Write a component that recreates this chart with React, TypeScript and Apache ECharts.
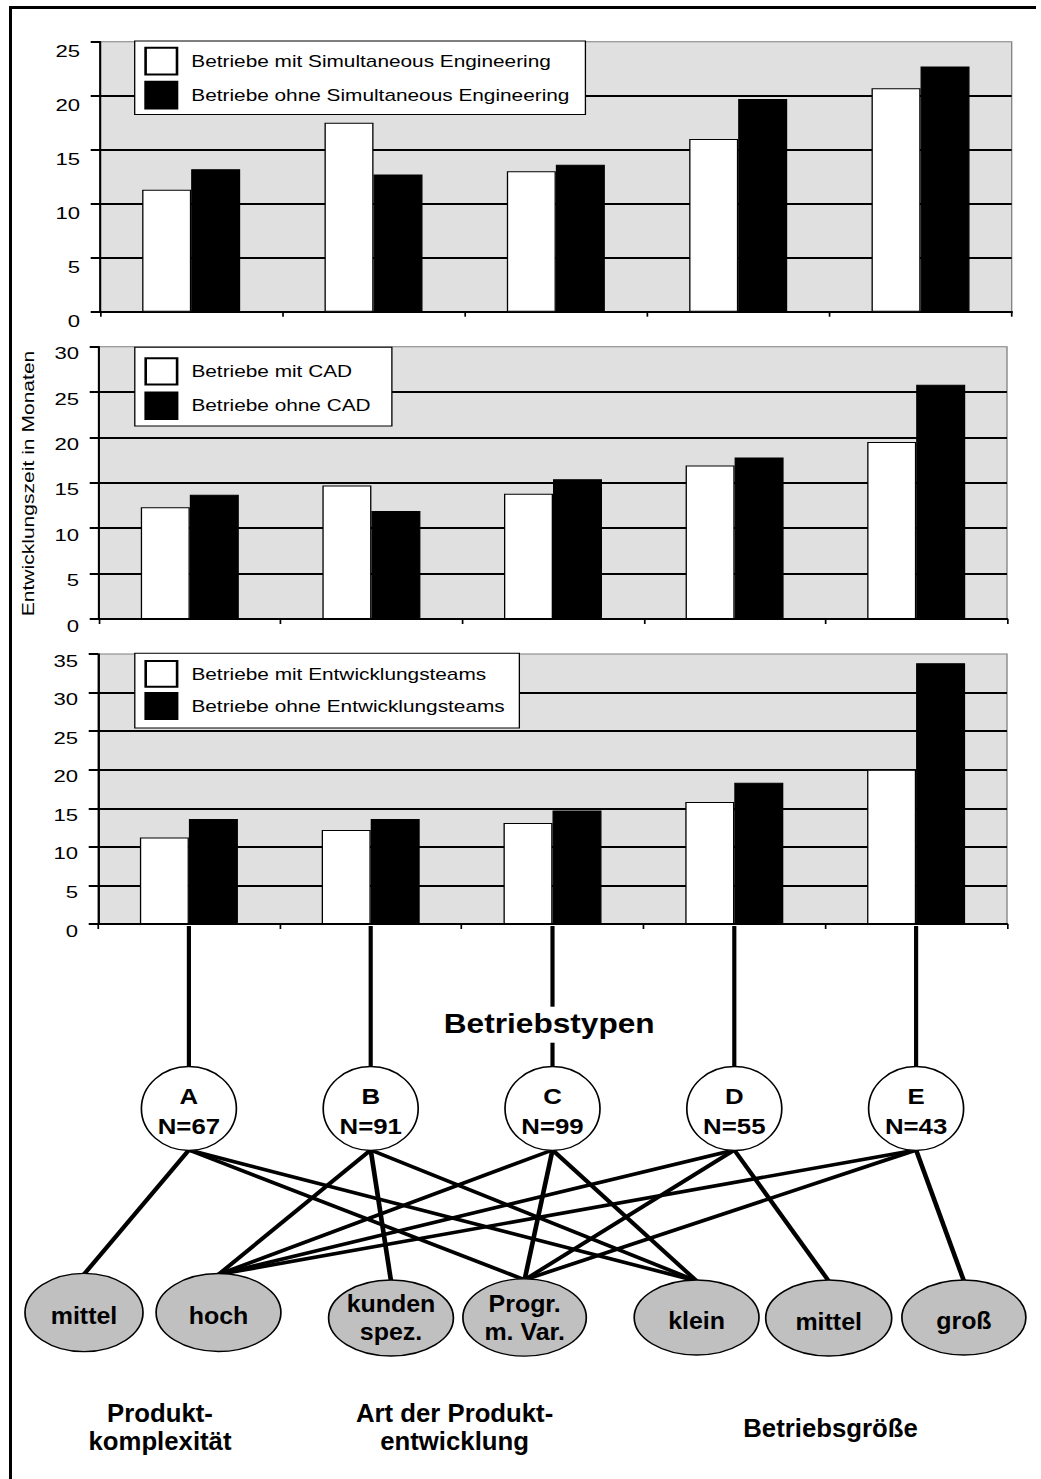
import React, { useEffect, useRef } from 'react';
import * as echarts from 'echarts';

// ---------- data ----------
const categories = ['A', 'B', 'C', 'D', 'E'];

const namesSE = ['Betriebe mit Simultaneous Engineering', 'Betriebe ohne Simultaneous Engineering'];
const withSE = [11.3, 17.5, 13.0, 16.0, 20.7];
const withoutSE = [13.2, 12.7, 13.6, 19.7, 22.7];

const namesCAD = ['Betriebe mit CAD', 'Betriebe ohne CAD'];
const withCAD = [12.3, 14.7, 13.8, 16.9, 19.5];
const withoutCAD = [13.7, 11.9, 15.4, 17.8, 25.8];

const namesTeams = ['Betriebe mit Entwicklungsteams', 'Betriebe ohne Entwicklungsteams'];
const withTeams = [11.2, 12.2, 13.1, 15.8, 20.0];
const withoutTeams = [13.6, 13.6, 14.7, 18.3, 33.8];

const yMaxima = [25, 30, 35];
const yInterval = 5;
const yAxisTitle = 'Entwicklungszeit in Monaten';

const diagramTitle = 'Betriebstypen';
const typeSizes = [67, 91, 99, 55, 43];
const featureLabels = ['mittel', 'hoch', 'kunden\nspez.', 'Progr.\nm. Var.', 'klein', 'mittel', 'groß'];
const groupLabels = ['Produkt-\nkomplexität', 'Art der Produkt-\nentwicklung', 'Betriebsgröße'];
// [type index, feature index]
const typeLinks: [number, number][] = [
  [0, 0], [0, 3], [0, 4],
  [1, 1], [1, 2], [1, 4],
  [2, 1], [2, 3], [2, 4],
  [3, 1], [3, 3], [3, 5],
  [4, 1], [4, 3], [4, 6],
];

// ---------- layout (page pixels) ----------
const PAGE_W = 1041;
const PAGE_H = 1479;
const INNER_W = 800;
const SX = PAGE_W / INNER_W; // whole picture is stretched horizontally
const X = (v: number) => v / SX;
const FONT = '"Liberation Sans", Arial, Helvetica, sans-serif';

const gridBoxes = [
  { left: 100, right: 1011.7, top: 41.7, bottom: 311.7, shift: 9 },
  { left: 99, right: 1007, top: 346.7, bottom: 619, shift: 6.5 },
  { left: 98, right: 1007, top: 654, bottom: 924, shift: 6.5 },
];
const legendBoxes = [
  { left: 134.7, top: 41, padT: 5.7, padR: 12, padB: 5, itemH: 26.7, gap: 5.4, font: 16 },
  { left: 134.8, top: 347.3, padT: 10, padR: 16.2, padB: 6, itemH: 26.3, gap: 6, font: 16 },
  { left: 134.8, top: 653.3, padT: 6.7, padR: 11, padB: 8, itemH: 25.8, gap: 4.3, font: 16 },
];

const topNodeY = 1108.5;
const topNodeRx = 47.5;
const topNodeRy = 42;
const bottomNodes = [
  { cx: 84, cy: 1312.5, rx: 59, ry: 39.2 },
  { cx: 218.5, cy: 1312.5, rx: 62.4, ry: 39 },
  { cx: 391, cy: 1318, rx: 62.4, ry: 38 },
  { cx: 524.6, cy: 1317.5, rx: 61.7, ry: 38.7 },
  { cx: 696.6, cy: 1317.5, rx: 62.4, ry: 37.5 },
  { cx: 828.7, cy: 1318, rx: 63, ry: 38 },
  { cx: 963.9, cy: 1317.5, rx: 62, ry: 37.5 },
];
const groupLabelPos = [
  [160, 1427],
  [454.6, 1427],
  [830.5, 1428],
];

function buildOption() {
  const names = [namesSE, namesCAD, namesTeams];
  const withData = [withSE, withCAD, withTeams];
  const withoutData = [withoutSE, withoutCAD, withoutTeams];

  const grid = gridBoxes.map((g) => ({
    left: X(g.left),
    top: g.top,
    width: X(g.right - g.left),
    height: g.bottom - g.top,
    show: true,
    backgroundColor: '#e0e0e0',
    borderColor: '#808080',
    borderWidth: 1,
    containLabel: false,
    outerBoundsMode: 'none',
  }));

  const xAxis = gridBoxes.map((_, i) => ({
    type: 'category',
    gridIndex: i,
    data: categories,
    boundaryGap: true,
    axisLabel: { show: false },
    axisTick: { show: true, length: 5, lineStyle: { color: '#000', width: 1.3 } },
    axisLine: { show: true, lineStyle: { color: '#000', width: 2 } },
    splitLine: { show: false },
  }));

  const yAxis = gridBoxes.map((g, i) => ({
    type: 'value',
    gridIndex: i,
    min: 0,
    max: yMaxima[i],
    interval: yInterval,
    axisLine: { show: true, lineStyle: { color: '#000', width: 1.6 } },
    axisTick: { show: true, length: X(9.3), lineStyle: { color: '#000', width: 2 } },
    axisLabel: {
      fontSize: 17,
      color: '#000',
      fontFamily: FONT,
      margin: X(20),
      verticalAlign: 'top',
      lineHeight: g.shift * 2,
    },
    splitLine: { show: true, showMaxLine: false, showMinLine: false, lineStyle: { color: '#000', width: 2 } },
  }));

  const legend = legendBoxes.map((l, i) => ({
    data: names[i],
    orient: 'vertical',
    left: X(l.left),
    top: l.top,
    itemWidth: X(31.4),
    itemHeight: l.itemH,
    itemGap: l.gap,
    padding: [l.padT, l.padR, l.padB, X(9.6)],
    backgroundColor: '#fff',
    borderColor: '#000',
    borderWidth: 1,
    borderRadius: 0,
    selectedMode: false,
    icon: 'rect',
    textStyle: { fontSize: l.font, color: '#000', fontFamily: FONT, padding: [0, 0, 0, 6] },
  }));

  const series: any[] = [];
  gridBoxes.forEach((_, i) => {
    series.push({
      type: 'bar',
      name: names[i][0],
      xAxisIndex: i,
      yAxisIndex: i,
      data: withData[i],
      barWidth: X(49),
      barGap: '0%',
      itemStyle: { color: '#fff', borderColor: '#000', borderWidth: 1 },
    });
    series.push({
      type: 'bar',
      name: names[i][1],
      xAxisIndex: i,
      yAxisIndex: i,
      data: withoutData[i],
      barWidth: X(49),
      barGap: '0%',
      itemStyle: { color: '#000', borderColor: '#000', borderWidth: 1 },
    });
  });

  // ---------- diagram below the charts ----------
  const g3 = gridBoxes[2];
  const catW = (g3.right - g3.left) / categories.length;
  const typeX = categories.map((_, i) => g3.left + (i + 0.5) * catW);

  const elements: any[] = [];
  const line = (x1: number, y1: number, x2: number, y2: number, w: number) => ({
    type: 'line',
    shape: { x1: X(x1), y1, x2: X(x2), y2 },
    style: { stroke: '#000', lineWidth: w, lineCap: 'butt' },
  });
  const text = (t: string, x: number, y: number, size: number, sx: number, extra: any = {}) => ({
    type: 'text',
    x: X(x),
    y,
    scaleX: sx,
    style: {
      text: t,
      fontSize: size,
      fontWeight: 'bold',
      fontFamily: FONT,
      fill: '#000',
      align: 'center',
      verticalAlign: 'middle',
      ...extra,
    },
  });

  // frame (top and left edges)
  elements.push(line(9, 7.5, 1036, 7.5, 3));
  elements.push(line(10.5, 6, 10.5, PAGE_H, 2.3));

  // y axis title
  elements.push({
    type: 'text',
    x: X(28),
    y: 483.5,
    rotation: Math.PI / 2,
    scaleX: 1.62,
    style: {
      text: yAxisTitle,
      fontSize: 13,
      fontFamily: FONT,
      fill: '#000',
      align: 'center',
      verticalAlign: 'middle',
    },
  });

  // connectors from chart to type nodes
  typeX.forEach((x, i) => {
    if (i === 2) {
      elements.push(line(x, 926, x, 1006.7, 3.2));
      elements.push(line(x, 1042.7, x, topNodeY - topNodeRy, 3.2));
    } else {
      elements.push(line(x, 926, x, topNodeY - topNodeRy, 3.2));
    }
  });

  // links between type nodes and feature nodes
  typeLinks.forEach(([t, f]) => {
    const b = bottomNodes[f];
    elements.push(line(typeX[t], topNodeY + topNodeRy - 0.5, b.cx, b.cy - b.ry + 1, 3.6));
  });

  // title of the type nodes
  elements.push(text(diagramTitle, 549.2, 1023.5, 28, 1.13 / SX));

  // type nodes
  typeX.forEach((x, i) => {
    elements.push({
      type: 'ellipse',
      shape: { cx: X(x), cy: topNodeY, rx: X(topNodeRx), ry: topNodeRy },
      style: { fill: '#fff', stroke: '#000', lineWidth: 1.3 },
    });
    elements.push(text(categories[i], x, topNodeY - 12, 21.5, 1.2 / SX));
    elements.push(text('N=' + typeSizes[i], x, topNodeY + 18, 21.5, 1.2 / SX));
  });

  // feature nodes
  bottomNodes.forEach((b, i) => {
    elements.push({
      type: 'ellipse',
      shape: { cx: X(b.cx), cy: b.cy, rx: X(b.rx), ry: b.ry },
      style: { fill: '#c0c0c0', stroke: '#000', lineWidth: 1.3 },
    });
    const twoLine = featureLabels[i].indexOf('\n') >= 0;
    elements.push(
      text(featureLabels[i], b.cx, twoLine ? b.cy : b.cy + 3.5, 24, 1.04 / SX, { lineHeight: 28 })
    );
  });

  // group labels
  groupLabels.forEach((g, i) => {
    elements.push(text(g, groupLabelPos[i][0], groupLabelPos[i][1], 26, 0.99 / SX, { lineHeight: 28 }));
  });

  return {
    animation: false,
    backgroundColor: '#fff',
    textStyle: { fontFamily: FONT },
    grid,
    xAxis,
    yAxis,
    legend,
    series,
    graphic: { elements },
  };
}

export default function App() {
  const ref = useRef<HTMLDivElement>(null);
  useEffect(() => {
    if (!ref.current) return;
    const chart = echarts.init(ref.current, undefined, { renderer: 'svg' });
    chart.setOption(buildOption() as any);
    return () => chart.dispose();
  }, []);
  return (
    <div
      style={{
        position: 'absolute',
        left: 0,
        top: 0,
        width: PAGE_W,
        height: PAGE_H,
        overflow: 'hidden',
        background: '#fff',
      }}
    >
      <div
        ref={ref}
        style={{
          width: INNER_W,
          height: PAGE_H,
          transform: `scaleX(${SX})`,
          transformOrigin: '0 0',
        }}
      />
    </div>
  );
}
